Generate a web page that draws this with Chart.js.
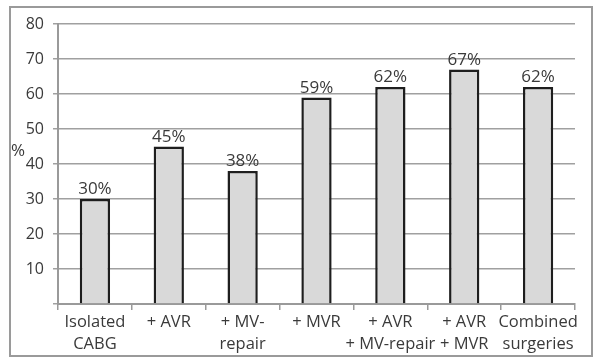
<!DOCTYPE html>
<html>
<head>
<meta charset="utf-8">
<script src="https://cdn.jsdelivr.net/npm/chart.js@4"></script>
<style>
  html, body { margin: 0; padding: 0; background: #fff; }
</style>
</head>
<body>
<canvas id="grafico" width="601" height="364"></canvas>
<script>
// dados
var categorias = [
    ['Isolated', 'CABG'],
    ['+ AVR'],
    ['+ MV-', 'repair'],
    ['+ MVR'],
    ['+ AVR', '+ MV-repair'],
    ['+ AVR', '+ MVR'],
    ['Combined', 'surgeries']
];
var valores = [30, 45, 38, 59, 62, 67, 62];
var rotulosY = [10, 20, 30, 40, 50, 60, 70, 80];

var fonte = '"Open Sans", "DejaVu Sans", sans-serif';

// moldura externa, rotulo "%" e valores acima das barras
var extras = {
    id: 'extras',
    beforeDraw: function (chart) {
        var ctx = chart.ctx;
        ctx.save();
        ctx.strokeStyle = '#9a9a9a';
        ctx.lineWidth = 2;
        ctx.strokeRect(10, 7, 582, 349);
        ctx.restore();
    },
    afterDatasetsDraw: function (chart) {
        var ctx = chart.ctx;
        ctx.save();
        ctx.fillStyle = '#3a3a3a';
        ctx.font = '17px ' + fonte;
        ctx.textAlign = 'center';
        ctx.textBaseline = 'bottom';
        chart.getDatasetMeta(0).data.forEach(function (barra, i) {
            ctx.fillText(valores[i] + '%', barra.x, barra.y - 1);
        });
        ctx.textBaseline = 'middle';
        ctx.fillText('%', 18, 151);
        ctx.restore();
    }
};

new Chart(document.getElementById('grafico'), {
    type: 'bar',
    data: {
        labels: categorias,
        datasets: [{
            data: valores,
            backgroundColor: '#d9d9d9',
            borderColor: '#1e1e1e',
            borderWidth: 2.5,
            barPercentage: 0.41,
            categoryPercentage: 1
        }]
    },
    options: {
        responsive: false,
        devicePixelRatio: 1,
        animation: false,
        layout: { padding: { left: 0, right: 26, top: 24, bottom: 0 } },
        plugins: {
            legend: { display: false },
            tooltip: { enabled: false }
        },
        scales: {
            x: {
                grid: {
                    offset: true,
                    drawOnChartArea: false,
                    color: '#9a9a9a',
                    lineWidth: 1.5,
                    tickLength: 6
                },
                border: { color: '#9a9a9a', width: 2 },
                ticks: {
                    color: '#3a3a3a',
                    font: { family: fonte, size: 16.5, lineHeight: 1.35 },
                    padding: 1,
                    maxRotation: 0,
                    autoSkip: false
                },
                afterFit: function (eixo) { eixo.height = 60; }
            },
            y: {
                min: 0,
                max: 80,
                afterBuildTicks: function (eixo) {
                    eixo.ticks = [{ value: 0 }].concat(rotulosY.map(function (v) { return { value: v }; }));
                },
                grid: {
                    color: '#a0a0a0',
                    lineWidth: 1.5,
                    tickLength: 5
                },
                border: { color: '#9a9a9a', width: 2 },
                ticks: {
                    color: '#3a3a3a',
                    font: { family: fonte, size: 16 },
                    padding: 9,
                    autoSkip: false,
                    callback: function (v) { return v === 0 ? '' : v; }
                },
                afterFit: function (eixo) { eixo.width = 58; }
            }
        }
    },
    plugins: [extras]
});
</script>
</body>
</html>
